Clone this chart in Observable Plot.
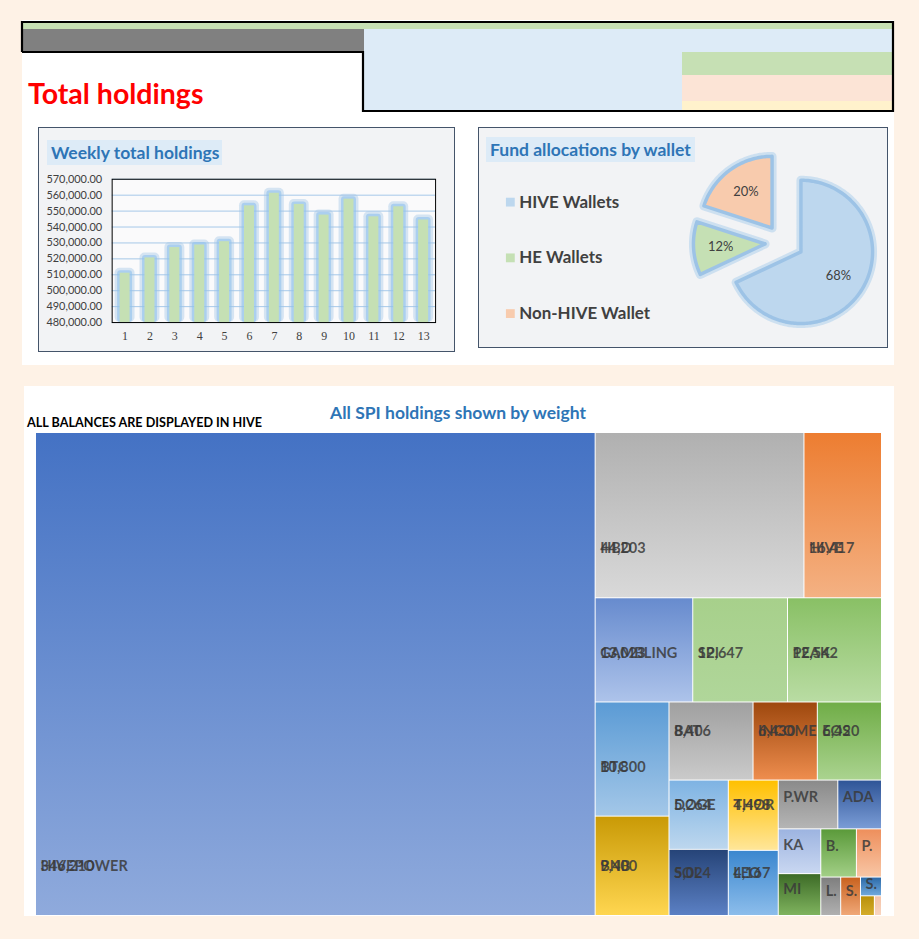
<!DOCTYPE html>
<html><head><meta charset="utf-8">
<script src="https://cdn.jsdelivr.net/npm/d3@7"></script>
<script src="https://cdn.jsdelivr.net/npm/@observablehq/plot@0.6"></script>
<style>
body{margin:0;background:#FEF2E6;font-family:Lato,"Open Sans",sans-serif}
#page{position:relative;width:919px;height:939px;overflow:hidden}
.abs{position:absolute}
.panel{position:absolute;background:#F2F3F5;border:1.5px solid #44546A;box-sizing:border-box;overflow:hidden}
.ttl{position:absolute;background:#DDEBF7;color:#2E75B6;font-weight:700;font-size:17.5px;line-height:25px;padding:0 4px;white-space:nowrap}
svg{overflow:visible}
</style></head><body><div id="page">
<div class="abs" style="left:22px;top:20px;width:872px;height:345px;background:#fff"></div>
<div class="abs" style="left:24px;top:386px;width:870px;height:530px;background:#fff"></div>
<div class="abs" style="left:22px;top:22px;width:871px;height:8px;background:#C6E0B4"></div>
<div class="abs" style="left:22px;top:29px;width:342px;height:22px;background:#808080"></div>
<div class="abs" style="left:364px;top:29px;width:529px;height:81px;background:#DDEBF7"></div>
<div class="abs" style="left:682px;top:52px;width:211px;height:23px;background:#C6E0B4"></div>
<div class="abs" style="left:682px;top:75px;width:211px;height:26px;background:#FCE4D6"></div>
<div class="abs" style="left:682px;top:101px;width:211px;height:9px;background:#FFF2CC"></div>
<svg class="abs" style="left:0;top:0" width="919" height="120"><path d="M22,52 V22 H893 V111 H363 V52 H22" fill="none" stroke="#000" stroke-width="2.2"/></svg>
<div class="abs" style="left:28px;top:76px;font-size:28.5px;line-height:34px;font-weight:700;color:#FF0000">Total holdings</div>

<div class="panel" id="wk" style="left:38px;top:127px;width:417px;height:225px"></div>
<div class="ttl" style="left:47px;top:140px;width:167px">Weekly total holdings</div>

<div class="panel" id="pie" style="left:478px;top:127px;width:410px;height:221px"></div>
<div class="ttl" style="left:486px;top:137px;width:201px">Fund allocations by wallet</div>

<div class="abs" style="left:27px;top:415px;font-size:12.6px;line-height:16px;font-weight:700;color:#000">ALL BALANCES ARE DISPLAYED IN HIVE</div>
<div class="abs" style="left:258px;top:402px;width:400px;text-align:center;font-size:17.5px;line-height:22px;font-weight:700;color:#2E75B6">All SPI holdings shown by weight</div>
<div class="abs" id="tm" style="left:36px;top:433px"></div>
</div>
<script>
// ---------- data ----------
const weeks = [1,2,3,4,5,6,7,8,9,10,11,12,13];
const weeklyHoldings = [511000,520600,527100,528700,530800,553300,561200,554200,547500,557500,546400,552700,544400];
const yTicks = [480000,490000,500000,510000,520000,530000,540000,550000,560000,570000];

const wallets = ["HIVE Wallets","HE Wallets","Non-HIVE Wallet"];
const walletShares = [68,12,20];

const assetNames = ["HIVEPOWER","HBD","HIVE","GAMBLING","SPI","PEAK","BTC","BNB","BAT","INCOME","EOS","DOGE","SOL","THOR","LEO","P.WR","ADA","KA","MI","B.","P.","L.","S.","S.","",""];
const assetValues = [346210,44203,16417,13023,12647,12542,10800,9400,8406,6430,6420,5264,5024,4498,4167,3720,2730,2440,2280,2200,1550,980,975,505,350,180];

// ---------- styles ----------
const tilePalette = [
 ["#4472C4","#8FAADC"],["#B0B0B0","#D9D9D9"],["#ED7D31","#F4B183"],["#678BCE","#ADC3EA"],
 ["#A7D08B","#B0D69A"],["#89C065","#B9DCA3"],["#5B9BD5","#A3C7E8"],["#C99A06","#FFD650"],
 ["#A0A0A0","#CACACA"],["#9E480E","#EE8D4E"],["#70AD47","#AAD38F"],["#7EB3E3","#BDD7EE"],
 ["#264478","#5B80C4"],["#FFC000","#FFE699"],["#3B87CF","#8CBDEB"],["#8A8A8A","#B5B5B5"],
 ["#2F5597","#7A9CD6"],["#9DB4E0","#C9D7F1"],["#3D6B27","#7FB35E"],["#5B9A3A","#A2CF86"],
 ["#EE8F5C","#F8C6A5"],["#7F7F7F","#B0B0B0"],["#C9621F","#F0A878"],["#2C6AA8","#6FA8DC"],
 ["#B8900A","#D4AC2A"],["#F4C3A8","#F8D5C0"]];
const pieColors = ["#BDD7EE","#C5E0B4","#F8CBAD"];
const pieOffsets = [[0,0],[-36,-8],[-29,-24]];

// ---------- weekly bar chart ----------
const wk = weeks.map((w,i)=>({week:w, value:weeklyHoldings[i]}));
const wkPlot = Plot.plot({
  width:417, height:225, marginLeft:73, marginRight:19, marginTop:51, marginBottom:30,
  style:{background:"transparent", fontFamily:"Lato, sans-serif", fontSize:"11px", color:"#404040"},
  x:{type:"band", domain:weeks, paddingInner:0.6, paddingOuter:0.3, label:null, axis:null},
  y:{domain:[yTicks[0], yTicks[yTicks.length-1]], label:null, axis:null},
  marks:[
    Plot.frame({fill:"#fff", fillOpacity:0.6, stroke:"none"}),
    Plot.gridY(yTicks, {stroke:"#9DC3E6", strokeOpacity:0.9, strokeWidth:1}),
    Plot.barY(wk,{x:"week", y1:yTicks[0], y2:"value", fill:"#9DC3E6", fillOpacity:0.4, insetLeft:-5, insetRight:-5, insetTop:-5, rx:5}),
    Plot.barY(wk,{x:"week", y1:yTicks[0], y2:"value", fill:"#8FC1EC", fillOpacity:0.6, insetLeft:-2.5, insetRight:-2.5, insetTop:-2.5, rx:3}),
    Plot.barY(wk,{x:"week", y1:yTicks[0], y2:"value", fill:"#C5E0B4"}),
    Plot.frame({stroke:"#000", strokeWidth:1}),
    Plot.axisY(yTicks,{tickSize:0, tickPadding:10, tickFormat:d3.format(",.2f"), fontSize:11, label:null, fill:"#404040"}),
    Plot.axisX({tickSize:0, tickPadding:9, fontSize:12, fontFamily:"Liberation Serif, serif", label:null, fill:"#404040"})
  ]
});
document.getElementById("wk").appendChild(wkPlot);

// ---------- pie chart ----------
const PW=410, PH=221, PC={x:323, y:124}, PR=72;
const arcs = d3.pie().sort(null)(walletShares);
const piePts=[], pieLbl=[];
arcs.forEach((a,i)=>{
  const mid=(a.startAngle+a.endAngle)/2;
  const ox=PC.x+pieOffsets[i][0], oy=PC.y+pieOffsets[i][1];
  piePts.push({k:i,x:ox,y:oy});
  const n=Math.ceil((a.endAngle-a.startAngle)/0.02);
  for(let j=0;j<=n;j++){const t=a.startAngle+(a.endAngle-a.startAngle)*j/n; piePts.push({k:i,x:ox+PR*Math.sin(t),y:oy-PR*Math.cos(t)});}
  piePts.push({k:i,x:ox,y:oy});
  pieLbl.push({x:ox+0.62*PR*Math.sin(mid), y:oy-0.62*PR*Math.cos(mid), t:walletShares[i]+"%"});
});
const legend = wallets.map((w,i)=>({w, i}));
const piePlot = Plot.plot({
  width:PW, height:PH, margin:0,
  style:{background:"transparent", fontFamily:"Lato, sans-serif", color:"#404040"},
  x:{domain:[0,PW], range:[0,PW], axis:null},
  y:{domain:[0,PH], range:[0,PH], axis:null},
  color:{type:"identity"},
  marks:[
    Plot.line(piePts,{x:"x",y:"y",z:"k",fill:"none",stroke:"#BDD7EE",strokeWidth:9,strokeOpacity:0.7,strokeLinejoin:"round"}),
    Plot.line(piePts,{x:"x",y:"y",z:"k",fill:d=>pieColors[d.k],stroke:"#9DC3E6",strokeWidth:3.5,strokeLinejoin:"round"}),
    Plot.text(pieLbl,{x:"x",y:"y",text:"t",fontSize:13,fill:"#404040"}),
    Plot.dot(legend,{x:31,y:d=>74+d.i*56,symbol:"square",r:5,fill:d=>pieColors[d.i],stroke:"none"}),
    Plot.text(legend,{x:40,y:d=>74+d.i*56,text:"w",textAnchor:"start",fontSize:17,fontWeight:"bold",fill:"#404040"})
  ]
});
document.getElementById("pie").appendChild(piePlot);

// ---------- treemap ----------
const TW=845, TH=482;
const root = d3.hierarchy({children:assetNames.map((n,i)=>({name:n,value:assetValues[i],i}))})
  .sum(d=>d.value||0).sort((a,b)=>b.value-a.value);
d3.treemap().size([TW,TH]).paddingInner(1).tile(d3.treemapSquarify.ratio(1))(root);
const tiles = root.leaves().map(l=>({x0:l.x0,x1:l.x1,y0:l.y0,y1:l.y1,name:l.data.name,value:l.data.value,i:l.data.i}));
tiles.forEach(t=>{const h=t.y1-t.y0; t.ly=t.y0+Math.max(0.35*h,h-49); t.showVal=h>55 && (t.x1-t.x0)>40;});
const fmt = d3.format(",");
const tmPlot = Plot.plot({
  width:TW, height:TH, margin:0,
  style:{background:"transparent", fontFamily:"Lato, sans-serif"},
  x:{domain:[0,TW], range:[0,TW], axis:null},
  y:{domain:[0,TH], range:[0,TH], axis:null},
  color:{type:"identity"},
  marks:[
    Plot.rect(tiles,{x1:"x0",x2:"x1",y1:"y0",y2:"y1",fill:d=>"url(#tg"+d.i+")"}),
    Plot.text(tiles.filter(t=>t.showVal),{x:"x0",y:"ly",text:d=>fmt(d.value),dx:4,textAnchor:"start",fontSize:14.5,fontWeight:"bold",fill:"#3a3a3a",fillOpacity:0.85}),
    Plot.text(tiles,{x:"x0",y:"ly",text:"name",dx:4,textAnchor:"start",fontSize:14.5,fontWeight:"bold",fill:"#3a3a3a",fillOpacity:0.85})
  ]
});
const defs = d3.select(tmPlot).insert("defs",":first-child");
tilePalette.forEach((p,i)=>{
  const g=defs.append("linearGradient").attr("id","tg"+i).attr("x1",0).attr("y1",0).attr("x2",0).attr("y2",1);
  g.append("stop").attr("offset","0%").attr("stop-color",p[0]);
  g.append("stop").attr("offset","100%").attr("stop-color",p[1]);
});
document.getElementById("tm").appendChild(tmPlot);
</script></body></html>
